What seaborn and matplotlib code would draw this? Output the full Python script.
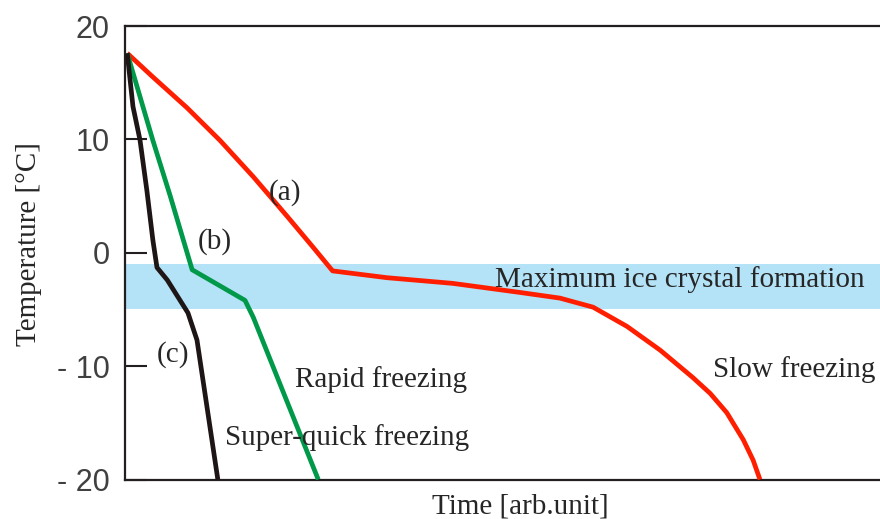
import numpy as np
import pandas as pd
import matplotlib
matplotlib.use("Agg")
import matplotlib.pyplot as plt
import seaborn as sns

# ---- data (arbitrary time units 0-100, temperature in °C) ----
slow_t = [0.3, 3.7, 8.2, 12.6, 17.0, 21.5, 24.9, 27.5, 34.7, 43.4, 52.3, 57.6,
          62.0, 66.5, 70.9, 75.2, 77.5, 79.7, 81.9, 83.2, 84.1]
slow_T = [17.6, 15.5, 12.8, 9.9, 6.7, 3.2, 0.5, -1.6, -2.2, -2.7, -3.5, -4.0,
          -4.8, -6.5, -8.6, -11.0, -12.4, -14.1, -16.5, -18.3, -20.0]

rapid_t = [0.3, 3.7, 6.0, 8.9, 15.9, 17.0, 25.6]
rapid_T = [17.6, 9.9, 5.0, -1.5, -4.2, -5.7, -20.0]

quick_t = [0.3, 1.06, 1.99, 2.9, 3.7, 4.24, 5.6, 8.34, 9.54, 12.3]
quick_T = [17.6, 12.9, 9.95, 5.5, 1.1, -1.3, -2.4, -5.3, -7.7, -20.0]

band_low, band_high = -5.0, -1.0
yticks = [20, 10, 0, -10, -20]
ytick_labels = ["20", "10", "0", "- 10", "- 20"]

df = pd.concat([
    pd.DataFrame({"time": slow_t, "temp": slow_T, "curve": "a"}),
    pd.DataFrame({"time": rapid_t, "temp": rapid_T, "curve": "b"}),
    pd.DataFrame({"time": quick_t, "temp": quick_T, "curve": "c"}),
], ignore_index=True)

sns.set_style("white")
plt.rcParams["font.family"] = ["Liberation Serif", "DejaVu Serif"]

fig = plt.figure(figsize=(8.8, 5.19), dpi=100)
ax = fig.add_axes([0.142, 0.0761, 0.858, 0.8738])

ax.axhspan(band_low, band_high, color="#b4e2f6", lw=0, zorder=0)

palette = {"a": "#ff1e00", "b": "#00994a", "c": "#1e1616"}
sns.lineplot(data=df, x="time", y="temp", hue="curve", palette=palette,
             sort=False, estimator=None, linewidth=3.4, legend=False, ax=ax,
             zorder=3)
for ln in ax.get_lines():
    ln.set_solid_joinstyle("round")
    ln.set_solid_capstyle("butt")

ax.set_xlim(0, 100)
ax.set_ylim(-20, 20)
ax.set_xticks([])
ax.set_yticks(yticks)
ax.set_yticklabels(ytick_labels, family=["Liberation Sans", "DejaVu Sans"],
                   fontsize=22, color="#404040")
ax.tick_params(axis="y", direction="in", length=16, width=1.5,
               color="#231f20", pad=11, left=True)

for side in ["left", "bottom", "top"]:
    ax.spines[side].set_visible(True)
    ax.spines[side].set_linewidth(1.6)
    ax.spines[side].set_color("#231f20")
ax.spines["right"].set_visible(False)

ax.set_xlabel("Time [arb.unit]", fontsize=21)
ax.xaxis.set_label_coords((520 - 125) / 755, -0.03, transform=ax.transAxes)
ax.xaxis.label.set_va("top")
ax.set_ylabel("Temperature [°C]", fontsize=21)
ax.yaxis.set_label_coords(-0.11, 0.52)

fs = 21
ax.text(21.2, 5.3, "(a)", fontsize=fs, ha="center", va="center")
ax.text(11.9, 0.95, "(b)", fontsize=fs, ha="center", va="center")
ax.text(6.4, -9.0, "(c)", fontsize=fs, ha="center", va="center")
ax.text(49.0, -3.0, "Maximum ice crystal formation", fontsize=fs, ha="left", va="baseline")
ax.text(77.9, -11.0, "Slow freezing", fontsize=fs, ha="left", va="baseline")
ax.text(22.5, -11.8, "Rapid freezing", fontsize=fs, ha="left", va="baseline")
ax.text(13.2, -17.0, "Super-quick freezing", fontsize=fs, ha="left", va="baseline")

fig.savefig("out.png", dpi=100)
